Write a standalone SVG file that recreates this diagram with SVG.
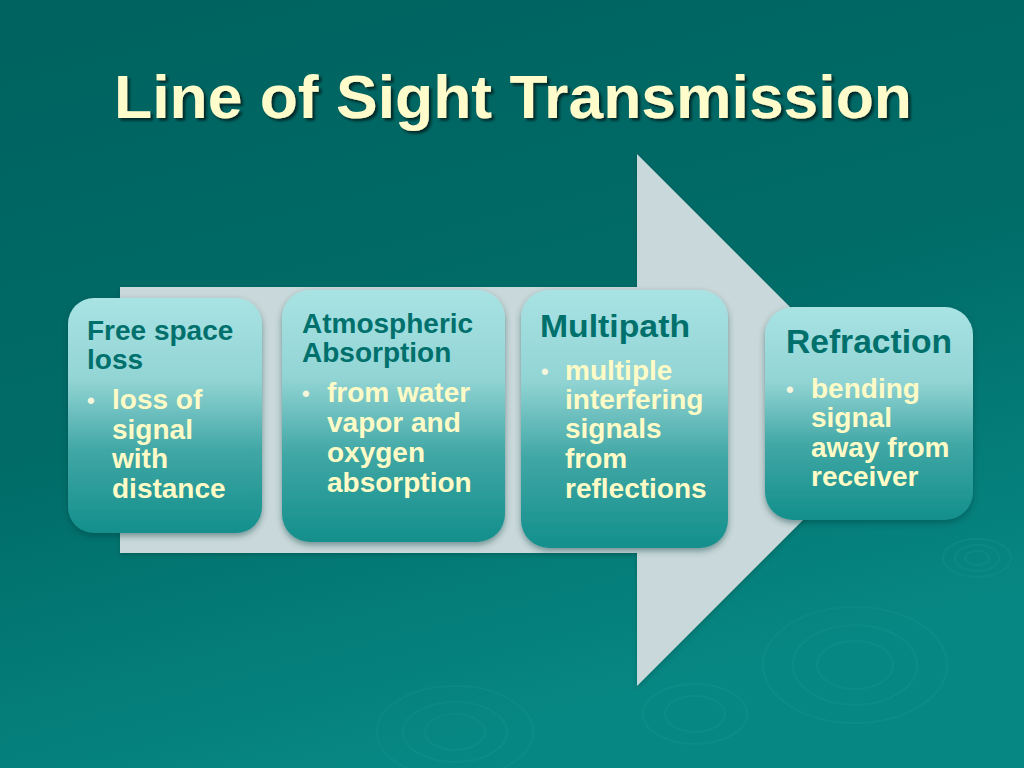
<svg xmlns="http://www.w3.org/2000/svg" width="1024" height="768" viewBox="0 0 1024 768">
  <defs>
    <linearGradient id="bg" x1="0" y1="0" x2="0.35" y2="1">
      <stop offset="0" stop-color="#00625f"/>
      <stop offset="0.55" stop-color="#006c68"/>
      <stop offset="1" stop-color="#078783"/>
    </linearGradient>
    <linearGradient id="box" x1="0" y1="0" x2="0" y2="1">
      <stop offset="0" stop-color="#a9e3e4"/>
      <stop offset="0.35" stop-color="#92d4d4"/>
      <stop offset="0.65" stop-color="#40a7a5"/>
      <stop offset="1" stop-color="#138f8c"/>
    </linearGradient>
    <filter id="shadow" x="-10%" y="-10%" width="120%" height="125%">
      <feDropShadow dx="0" dy="3" stdDeviation="3" flood-color="#003b39" flood-opacity="0.45"/>
    </filter>
    <filter id="ashadow" x="-5%" y="-5%" width="110%" height="110%">
      <feDropShadow dx="0" dy="2" stdDeviation="2" flood-color="#003b39" flood-opacity="0.35"/>
    </filter>
    <filter id="tshadow" x="-5%" y="-20%" width="110%" height="140%">
      <feDropShadow dx="2.5" dy="2.5" stdDeviation="1.2" flood-color="#001a19" flood-opacity="0.8"/>
    </filter>
    <style>
      .hd { font-family: "Liberation Sans", Arial, sans-serif; font-weight: bold; fill: #00706d; }
      .bt { font-family: "Liberation Sans", Arial, sans-serif; font-weight: bold; font-size: 28px; fill: #fffbc6; }
      .dot { font-family: "Liberation Sans", Arial, sans-serif; font-weight: bold; font-size: 22px; fill: #f3f6dc; }
      .box { fill: url(#box); filter: url(#shadow); }
      .rip { fill: none; stroke: #1a9591; stroke-opacity: 0.3; stroke-width: 2; }
    </style>
  </defs>

  <rect x="0" y="0" width="1024" height="768" fill="url(#bg)"/>

  <g id="ripples">
    <ellipse class="rip" cx="977" cy="558" rx="12" ry="7"/>
    <ellipse class="rip" cx="977" cy="558" rx="22" ry="13"/>
    <ellipse class="rip" cx="977" cy="558" rx="34" ry="19"/>
    <ellipse class="rip" cx="855" cy="665" rx="38" ry="24"/>
    <ellipse class="rip" cx="855" cy="665" rx="62" ry="40"/>
    <ellipse class="rip" cx="855" cy="665" rx="92" ry="58"/>
    <ellipse class="rip" cx="455" cy="732" rx="30" ry="18"/>
    <ellipse class="rip" cx="455" cy="732" rx="52" ry="30"/>
    <ellipse class="rip" cx="455" cy="732" rx="78" ry="46"/>
    <ellipse class="rip" cx="695" cy="714" rx="30" ry="18"/>
    <ellipse class="rip" cx="695" cy="714" rx="52" ry="30"/>
  </g>

  <g id="title">
    <text x="114" y="118" font-family="'Liberation Sans', Arial, sans-serif" font-weight="bold" font-size="62" fill="#fffccc" textLength="798" lengthAdjust="spacingAndGlyphs" filter="url(#tshadow)">Line of Sight Transmission</text>
  </g>

  <g id="connectors">
    <polygon id="arrow" points="120,287 637,287 637,154 903,420 637,686 637,553 120,553" fill="#c9d8da" filter="url(#ashadow)"/>
  </g>

  <g id="node-free-space">
    <rect class="box" x="68" y="298" width="194" height="235" rx="26"/>
    <text class="hd" font-size="28" x="87" y="340">Free space</text>
    <text class="hd" font-size="28" x="87" y="369">loss</text>
    <text class="dot" x="87" y="408">•</text>
    <text class="bt" x="112" y="409">loss of</text>
    <text class="bt" x="112" y="439">signal</text>
    <text class="bt" x="112" y="468">with</text>
    <text class="bt" x="112" y="498">distance</text>
  </g>

  <g id="node-atmospheric">
    <rect class="box" x="282" y="290" width="223" height="252" rx="28"/>
    <text class="hd" font-size="28" x="302" y="333">Atmospheric</text>
    <text class="hd" font-size="28" x="302" y="362">Absorption</text>
    <text class="dot" x="302" y="401">•</text>
    <text class="bt" x="327" y="402">from water</text>
    <text class="bt" x="327" y="432">vapor and</text>
    <text class="bt" x="327" y="462">oxygen</text>
    <text class="bt" x="327" y="492">absorption</text>
  </g>

  <g id="node-multipath">
    <rect class="box" x="521" y="290" width="207" height="258" rx="28"/>
    <text class="hd" font-size="32" x="540" y="337" textLength="150" lengthAdjust="spacingAndGlyphs">Multipath</text>
    <text class="dot" x="541" y="379">•</text>
    <text class="bt" x="565" y="380">multiple</text>
    <text class="bt" x="565" y="409">interfering</text>
    <text class="bt" x="565" y="438">signals</text>
    <text class="bt" x="565" y="468">from</text>
    <text class="bt" x="565" y="498">reflections</text>
  </g>

  <g id="node-refraction">
    <rect class="box" x="765" y="307" width="208" height="213" rx="28"/>
    <text class="hd" font-size="33" x="786" y="353" textLength="166" lengthAdjust="spacingAndGlyphs">Refraction</text>
    <text class="dot" x="786" y="397">•</text>
    <text class="bt" x="811" y="398">bending</text>
    <text class="bt" x="811" y="427">signal</text>
    <text class="bt" x="811" y="457">away from</text>
    <text class="bt" x="811" y="486">receiver</text>
  </g>
</svg>
